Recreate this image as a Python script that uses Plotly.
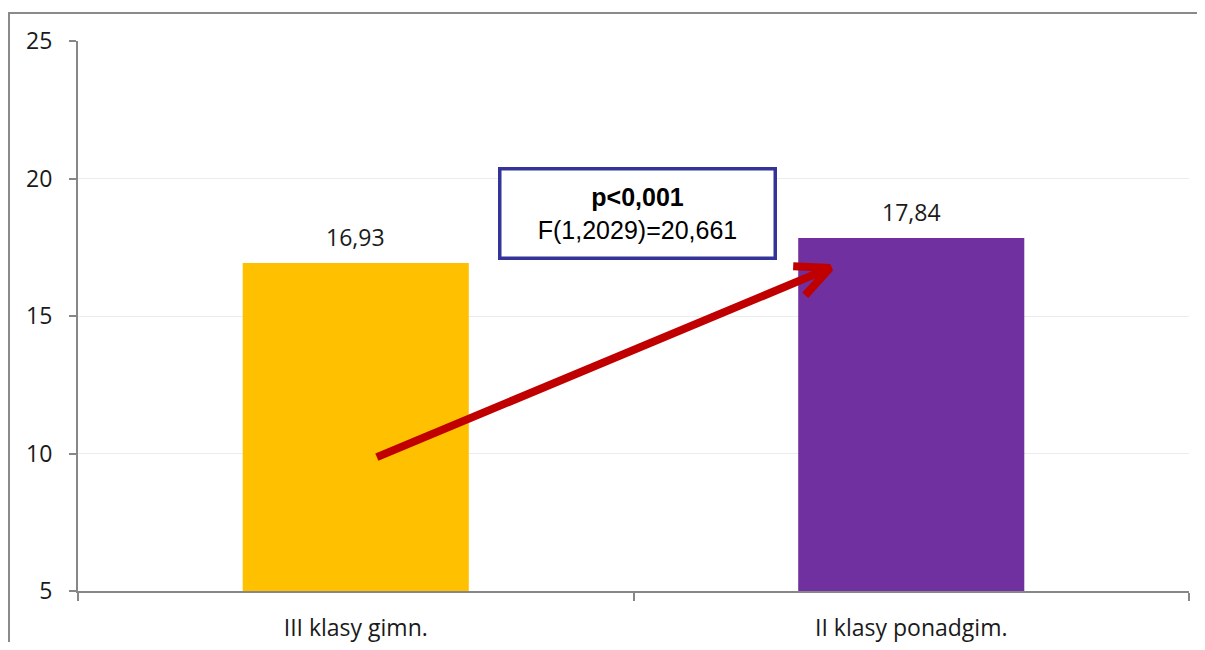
import math

import plotly.graph_objects as go

categories = ["III klasy gimn.", "II klasy ponadgim."]
values = [16.93, 17.84]
value_labels = ["16,93", "17,84"]
bar_colors = ["#FFC000", "#7030A0"]

y_ticks = [5, 10, 15, 20, 25]
stat_lines = ["<b>p<0,001</b>", "F(1,2029)=20,661"]

# arrow (overlay axis: category index, value)
arrow_start = (0.038, 9.87)
arrow_tip = (0.854, 16.75)

# page body has an 8px margin, so the figure is a bit smaller than the window
W, H = 1189, 634
M = dict(l=70, r=8, t=33, b=51)
Y_RANGE = [5, 25]
X_RANGE = [-0.5, 1.5]

plot_w = W - M["l"] - M["r"]
plot_h = H - M["t"] - M["b"]
px_x = plot_w / (X_RANGE[1] - X_RANGE[0])
px_y = plot_h / (Y_RANGE[1] - Y_RANGE[0])


def arrow_arms(start, tip, length=37, spread=25):
    # direction from tip back to start, in pixel space
    dx = (start[0] - tip[0]) * px_x
    dy = (start[1] - tip[1]) * px_y
    ang = math.atan2(dy, dx)
    arms = []
    for s in (-1, 1):
        a = ang + s * math.radians(spread)
        arms.append(
            (tip[0] + length * math.cos(a) / px_x, tip[1] + length * math.sin(a) / px_y)
        )
    return arms


FONT = "Open Sans, Noto Sans, sans-serif"
AXIS_GREY = "#878787"

fig = go.Figure()
fig.add_trace(
    go.Bar(
        x=categories,
        y=values,
        marker=dict(color=bar_colors, line_width=0),
        showlegend=False,
        hoverinfo="skip",
    )
)

arm1, arm2 = arrow_arms(arrow_start, arrow_tip)
fig.add_trace(
    go.Scatter(
        x=[arrow_start[0], arrow_tip[0], None, arm1[0], arrow_tip[0], arm2[0]],
        y=[arrow_start[1], arrow_tip[1], None, arm1[1], arrow_tip[1], arm2[1]],
        xaxis="x2",
        mode="lines",
        line=dict(color="#C00000", width=8),
        showlegend=False,
        hoverinfo="skip",
    )
)

for cat, val, lab in zip(categories, values, value_labels):
    fig.add_annotation(
        x=cat,
        y=val,
        text=lab,
        showarrow=False,
        yanchor="bottom",
        yshift=8,
        font=dict(family=FONT, size=23, color="#1a1a1a"),
    )

fig.add_annotation(
    xref="paper",
    x=0.5036,
    y=18.71,
    text="<br>".join(stat_lines),
    showarrow=False,
    width=272,
    height=86,
    borderpad=0,
    bordercolor="#333399",
    borderwidth=3.5,
    bgcolor="white",
    font=dict(family="Liberation Sans, Arial, sans-serif", size=25, color="black"),
)

# outer chart frame (right and bottom edges fall outside the figure)
fig.add_shape(
    type="rect",
    xref="paper",
    yref="paper",
    x0=(1 - M["l"]) / plot_w,
    x1=1.05,
    y0=-0.2,
    y1=1 + (M["t"] - 5) / plot_h,
    line=dict(color="#8a8a8a", width=2),
    layer="below",
)

fig.update_layout(
    width=W,
    height=H,
    margin=M,
    plot_bgcolor="white",
    paper_bgcolor="white",
    bargap=0.593,
    font=dict(family=FONT, size=23, color="#1a1a1a"),
    xaxis=dict(
        type="category",
        range=X_RANGE,
        tickson="boundaries",
        ticks="outside",
        ticklen=8,
        tickwidth=2,
        tickcolor=AXIS_GREY,
        showline=True,
        linecolor=AXIS_GREY,
        linewidth=2,
        showgrid=False,
        ticklabelstandoff=15,
        automargin=False,
        fixedrange=True,
    ),
    xaxis2=dict(overlaying="x", range=X_RANGE, visible=False, fixedrange=True),
    yaxis=dict(
        range=Y_RANGE,
        tickvals=y_ticks,
        ticks="outside",
        ticklen=7,
        tickwidth=2,
        tickcolor=AXIS_GREY,
        showline=True,
        linecolor=AXIS_GREY,
        linewidth=2,
        gridcolor="#ECECEC",
        gridwidth=1,
        zeroline=False,
        ticklabelstandoff=12,
        automargin=False,
        fixedrange=True,
    ),
)

fig.write_html("out.html")
